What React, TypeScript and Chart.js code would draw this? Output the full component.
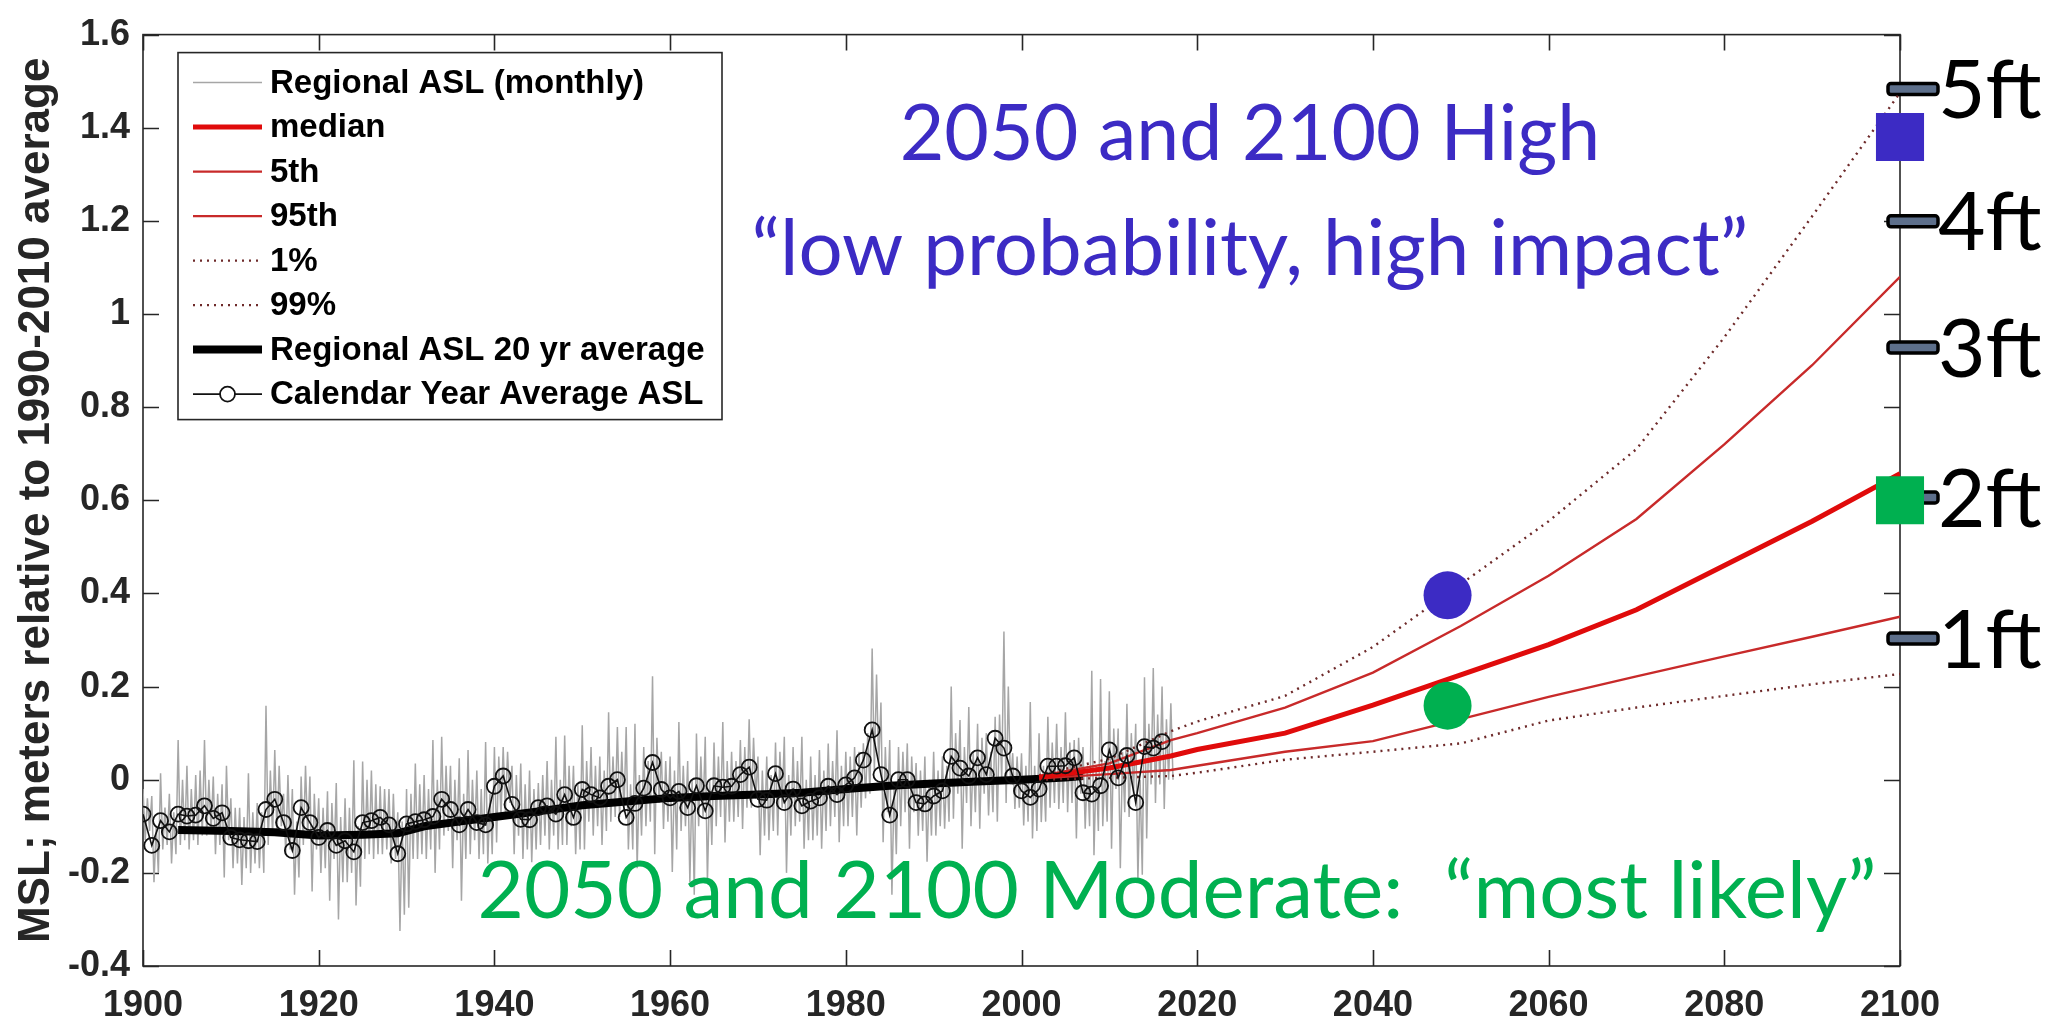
import React, { useEffect, useRef } from "react";
import { Chart, registerables } from "chart.js";

Chart.register(...registerables);

// ---------------- data ----------------
// monthly record, sampled 4 per year starting 1900
const monthlyStart = 1900;
const monthlyStep = 0.25;
const monthlyASL = [
  // 1900-1909
  -0.02, -0.13, -0.04, -0.11, -0.035, -0.22, -0.1, -0.2, 0.014, -0.15, -0.06, -0.14, -0.03, -0.18, -0.07, -0.16, 0.085, -0.14, 0.0, -0.13,
  0.03, -0.15, -0.02, -0.13, 0.01, -0.14, 0.02, -0.12, 0.085, -0.12, 0.0, -0.11, 0.007, -0.16, -0.03, -0.14, -0.01, -0.21, 0.03, -0.13,
  // 1910-1919
  -0.04, -0.19, -0.06, -0.18, -0.06, -0.226, -0.08, -0.19, 0.014, -0.2, -0.07, -0.18, -0.05, -0.19, -0.07, -0.2, 0.159, -0.14, 0.02, -0.12,
  0.064, -0.12, 0.03, -0.1, -0.03, -0.16, 0.01, -0.15, -0.02, -0.247, -0.09, -0.21, 0.007, -0.14, 0.03, -0.12, 0.007, -0.24, -0.03, -0.15,
  // 1920-1929
  -0.04, -0.2, -0.06, -0.19, -0.025, -0.26, -0.05, -0.17, -0.007, -0.3, -0.08, -0.22, -0.04, -0.22, -0.06, -0.2, 0.042, -0.27, -0.1, -0.23,
  0.039, -0.17, 0.0, -0.16, 0.02, -0.17, -0.01, -0.16, -0.014, -0.16, -0.02, -0.15, -0.02, -0.18, -0.03, -0.17, -0.07, -0.325, -0.09, -0.29,
  // 1930-1939
  -0.02, -0.275, -0.03, -0.17, 0.035, -0.17, -0.01, -0.16, 0.01, -0.17, -0.02, -0.15, 0.085, -0.2, 0.0, -0.15, 0.092, -0.12, 0.03, -0.11,
  0.03, -0.19, 0.0, -0.13, 0.046, -0.26, -0.03, -0.17, 0.064, -0.16, 0.0, -0.13, 0.02, -0.17, -0.02, -0.16, 0.081, -0.18, -0.03, -0.16,
  // 1940-1949
  0.07, -0.135, 0.05, -0.08, 0.07, -0.07, 0.06, -0.05, 0.03, -0.16, 0.01, -0.12, 0.035, -0.17, -0.01, -0.15, 0.02, -0.177, -0.02, -0.15,
  -0.007, -0.14, 0.01, -0.12, 0.04, -0.15, 0.0, -0.12, 0.092, -0.15, 0.0, -0.14, 0.095, -0.14, 0.03, -0.1, 0.03, -0.16, -0.01, -0.15,
  // 1950-1959
  0.117, -0.15, 0.04, -0.09, 0.07, -0.12, 0.03, -0.1, 0.05, -0.14, 0.02, -0.11, 0.145, -0.09, 0.05, -0.08, 0.113, -0.08, 0.06, -0.07,
  0.113, -0.15, -0.01, -0.15, 0.12, -0.19, 0.01, -0.12, 0.07, -0.1, 0.04, -0.09, 0.222, -0.16, 0.09, -0.05, 0.06, -0.106, 0.04, -0.09,
  // 1960-1969
  0.05, -0.198, 0.02, -0.15, 0.124, -0.11, 0.03, -0.1, 0.04, -0.22, 0.0, -0.247, 0.099, -0.1, 0.05, -0.08, 0.092, -0.22, 0.0, -0.14,
  0.08, -0.1, 0.05, -0.08, 0.124, -0.135, 0.04, -0.09, 0.06, -0.09, 0.04, -0.08, 0.085, -0.106, 0.07, -0.06, 0.13, -0.06, 0.09, -0.04,
  // 1970-1979
  0.05, -0.162, 0.02, -0.12, 0.05, -0.13, 0.01, -0.11, 0.08, -0.12, 0.06, -0.06, 0.092, -0.2, 0.01, -0.12, 0.07, -0.1, 0.04, -0.09,
  0.092, -0.148, 0.0, -0.13, 0.05, -0.13, 0.01, -0.12, 0.064, -0.148, 0.02, -0.11, 0.078, -0.1, 0.04, -0.08, 0.106, -0.134, 0.03, -0.1,
  // 1980-1989
  0.06, -0.1, 0.05, -0.08, 0.07, -0.12, 0.06, -0.06, 0.078, -0.04, 0.1, -0.03, 0.282, 0.02, 0.226, 0.03, 0.166, -0.134, 0.07, -0.07,
  0.085, -0.247, -0.01, -0.16, 0.07, -0.1, 0.06, -0.07, 0.078, -0.148, 0.05, -0.07, 0.036, -0.12, 0.02, -0.11, 0.05, -0.176, 0.0, -0.12,
  // 1990-1999
  0.06, -0.12, 0.02, -0.1, 0.05, -0.105, 0.03, -0.09, 0.2, -0.084, 0.1, -0.03, 0.128, -0.148, 0.07, -0.05, 0.156, -0.1, 0.06, -0.07,
  0.12, -0.105, 0.09, -0.03, 0.1, -0.077, 0.06, -0.07, 0.135, -0.09, 0.14, 0.0, 0.318, -0.05, 0.2, -0.01, 0.057, -0.063, 0.05, -0.06,
  // 2000-2009
  0.057, -0.098, 0.03, -0.09, 0.167, -0.126, 0.03, -0.11, 0.1, -0.091, 0.03, -0.09, 0.135, -0.06, 0.08, -0.05, 0.12, -0.063, 0.07, -0.05,
  0.145, -0.07, 0.08, -0.05, 0.085, -0.126, 0.09, -0.03, 0.07, -0.105, 0.03, -0.1, 0.234, -0.162, 0.03, -0.11, 0.216, -0.1, 0.04, -0.09,
  // 2010-2017
  0.19, -0.148, 0.11, -0.02, 0.11, -0.19, 0.06, -0.07, 0.163, -0.08, 0.1, -0.03, 0.12, -0.218, 0.0, -0.204, 0.22, -0.126, 0.12, -0.01,
  0.24, -0.05, 0.14, -0.01, 0.2, -0.063, 0.13, 0.0, 0.164, 0.0,
];

// calendar-year averages, 1900-2016
const annualStart = 1900;
const annualASL = [
  -0.074, -0.141, -0.088, -0.112, -0.074, -0.078, -0.076, -0.056, -0.083, -0.071,
  -0.124, -0.129, -0.131, -0.133, -0.064, -0.042, -0.092, -0.152, -0.06, -0.092,
  -0.124, -0.109, -0.141, -0.131, -0.155, -0.092, -0.088, -0.081, -0.097, -0.159,
  -0.095, -0.09, -0.086, -0.079, -0.042, -0.064, -0.097, -0.064, -0.092, -0.097,
  -0.014, 0.008, -0.053, -0.085, -0.086, -0.06, -0.056, -0.074, -0.032, -0.081,
  -0.021, -0.032, -0.039, -0.014, 0.0, -0.081, -0.051, -0.018, 0.037, -0.021,
  -0.039, -0.025, -0.06, -0.013, -0.067, -0.013, -0.016, -0.014, 0.011, 0.027,
  -0.042, -0.044, 0.013, -0.049, -0.02, -0.056, -0.046, -0.039, -0.014, -0.032,
  -0.011, 0.004, 0.042, 0.107, 0.011, -0.076, 0.0, 0.0, -0.049, -0.052,
  -0.035, -0.024, 0.05, 0.025, 0.008, 0.047, 0.011, 0.089, 0.068, 0.008,
  -0.024, -0.038, -0.02, 0.029, 0.029, 0.03, 0.047, -0.028, -0.031, -0.013,
  0.064, 0.004, 0.052, -0.049, 0.071, 0.068, 0.082,
];

// 20-year running average
const avg20Years = [1904, 1910, 1915, 1920, 1925, 1929, 1932, 1936, 1940, 1945, 1950, 1955, 1960, 1965, 1970, 1975, 1980, 1985, 1990, 1995, 2000, 2005, 2007];
const avg20ASL = [-0.108, -0.11, -0.113, -0.12, -0.118, -0.115, -0.1, -0.09, -0.08, -0.068, -0.055, -0.047, -0.039, -0.035, -0.032, -0.028, -0.02, -0.013, -0.008, -0.004, 0.0, 0.005, 0.008];

// projections
const projYears = [2002, 2010, 2017, 2020, 2030, 2040, 2050, 2060, 2070, 2080, 2090, 2100];
const projMedian = [0.005, 0.025, 0.051, 0.065, 0.1, 0.16, 0.225, 0.29, 0.365, 0.46, 0.555, 0.657];
const projP5 = [0.003, 0.012, 0.021, 0.03, 0.06, 0.083, 0.13, 0.178, 0.222, 0.265, 0.307, 0.35];
const projP95 = [0.008, 0.035, 0.085, 0.1, 0.155, 0.23, 0.33, 0.438, 0.56, 0.72, 0.89, 1.08];
const projP1 = [0.0, 0.004, 0.008, 0.015, 0.043, 0.06, 0.078, 0.127, 0.155, 0.18, 0.205, 0.227];
const projP99 = [0.01, 0.045, 0.104, 0.125, 0.18, 0.285, 0.42, 0.555, 0.71, 0.95, 1.21, 1.475];

// scenario markers (2050 and 2100)
const markerYears = [2048.5, 2100];
const highScenario = [0.396, 1.38];
const moderateScenario = [0.159, 0.6];

// feet reference marks (metres)
const ftLabels = ["1ft", "2ft", "3ft", "4ft", "5ft"];
const ftValues = [0.303, 0.606, 0.928, 1.199, 1.483];

// ---------------- styles ----------------
const AX = "#262626";
const SANS = '"Liberation Sans", Arial, Helvetica, sans-serif';
const CAL = 'Lato, Carlito, Calibri, sans-serif';
const BLUE = "#3c2bc4";
const GREEN = "#00b050";

const framePlugin = {
  id: "matlabFrame",
  beforeDatasetsDraw(chart: any) {
    const { ctx, chartArea: a, scales } = chart;
    const x = scales.x;
    const y = scales.y;
    ctx.save();
    ctx.strokeStyle = AX;
    ctx.lineWidth = 1.6;
    ctx.strokeRect(a.left, a.top, a.right - a.left, a.bottom - a.top);
    const tl = 16;
    ctx.beginPath();
    x.ticks.forEach((t: any) => {
      const px = Math.round(x.getPixelForValue(t.value)) + 0.5;
      ctx.moveTo(px, a.bottom);
      ctx.lineTo(px, a.bottom - tl);
      ctx.moveTo(px, a.top);
      ctx.lineTo(px, a.top + tl);
    });
    y.ticks.forEach((t: any) => {
      const py = Math.round(y.getPixelForValue(t.value)) + 0.5;
      ctx.moveTo(a.left, py);
      ctx.lineTo(a.left + tl, py);
      ctx.moveTo(a.right, py);
      ctx.lineTo(a.right - tl, py);
    });
    ctx.stroke();

    // feet reference bars + labels
    ftValues.forEach((v, i) => {
      const py = y.getPixelForValue(v);
      const x0 = a.right - 12;
      const w = 50;
      const h = 11;
      ctx.beginPath();
      ctx.roundRect(x0, py - h / 2, w, h, 3);
      ctx.fillStyle = "#5d6f8b";
      ctx.fill();
      ctx.lineWidth = 3.5;
      ctx.strokeStyle = "#000";
      ctx.stroke();
      ctx.fillStyle = "#000";
      ctx.font = `82px ${CAL}`;
      ctx.textAlign = "left";
      ctx.textBaseline = "alphabetic";
      ctx.fillText(ftLabels[i], a.right + 38, py + 29);
    });
    ctx.restore();
  },
  afterDatasetsDraw(chart: any) {
    const { ctx, scales } = chart;
    const opts = chart.options.plugins.slideText;
    ctx.save();
    opts.items.forEach((it: any) => {
      ctx.font = `${it.size}px ${CAL}`;
      ctx.fillStyle = it.color;
      ctx.textAlign = "center";
      ctx.textBaseline = "alphabetic";
      ctx.fillText(it.text, scales.x.getPixelForValue(it.x), scales.y.getPixelForValue(it.y));
    });
    ctx.restore();
  },
  afterDraw(chart: any) {
    const { ctx, chartArea: a } = chart;
    const L = a.left + 35;
    const T = a.top + 18;
    const W = 544;
    const H = 367;
    ctx.save();
    ctx.fillStyle = "#fff";
    ctx.fillRect(L, T, W, H);
    ctx.strokeStyle = AX;
    ctx.lineWidth = 1.6;
    ctx.strokeRect(L, T, W, H);
    ctx.font = `bold 33px ${SANS}`;
    ctx.textBaseline = "middle";
    ctx.textAlign = "left";
    const items = chart.data.datasets.filter((d: any) => d.label);
    items.forEach((d: any, i: number) => {
      const yy = T + 30 + i * 44.5;
      const x0 = L + 15;
      const x1 = L + 84;
      ctx.beginPath();
      ctx.setLineDash(d.borderDash || []);
      ctx.strokeStyle = d.borderColor;
      ctx.lineWidth = d.borderWidth;
      ctx.moveTo(x0, yy);
      ctx.lineTo(x1, yy);
      ctx.stroke();
      ctx.setLineDash([]);
      if (d.pointRadius > 0) {
        ctx.beginPath();
        ctx.arc((x0 + x1) / 2, yy, d.pointRadius, 0, Math.PI * 2);
        ctx.fillStyle = "#fff";
        ctx.fill();
        ctx.lineWidth = d.pointBorderWidth;
        ctx.stroke();
      }
      ctx.fillStyle = "#000";
      ctx.fillText(d.label, L + 92, yy + 1);
    });
    ctx.restore();
  },
};

export default function App() {
  const ref = useRef<HTMLCanvasElement>(null);

  useEffect(() => {
    const canvas = ref.current;
    if (!canvas) return;
    const pts = (xs: number[], ys: number[]) => ys.map((v, i) => ({ x: xs[i], y: v }));
    const monthlyPts = monthlyASL.map((v, i) => ({ x: monthlyStart + i * monthlyStep, y: v }));
    const annualPts = annualASL.map((v, i) => ({ x: annualStart + i, y: v }));

    const chart = new Chart(canvas, {
      type: "line",
      data: {
        datasets: [
          {
            label: "Regional ASL (monthly)",
            data: monthlyPts,
            borderColor: "#a6a6a6",
            borderWidth: 1.5,
            pointRadius: 0,
            order: 6,
          },
          {
            label: "median",
            data: pts(projYears, projMedian),
            borderColor: "#e00b0b",
            borderWidth: 5,
            pointRadius: 0,
            order: 3,
          },
          {
            label: "5th",
            data: pts(projYears, projP5),
            borderColor: "#c82a2a",
            borderWidth: 2.4,
            pointRadius: 0,
            order: 4,
          },
          {
            label: "95th",
            data: pts(projYears, projP95),
            borderColor: "#c82a2a",
            borderWidth: 2.4,
            pointRadius: 0,
            order: 4,
          },
          {
            label: "1%",
            data: pts(projYears, projP1),
            borderColor: "#6e2a2a",
            borderWidth: 2.4,
            borderDash: [2, 5],
            pointRadius: 0,
            order: 4,
          },
          {
            label: "99%",
            data: pts(projYears, projP99),
            borderColor: "#6e2a2a",
            borderWidth: 2.4,
            borderDash: [2, 5],
            pointRadius: 0,
            order: 4,
          },
          {
            label: "Regional ASL 20 yr average",
            data: pts(avg20Years, avg20ASL),
            borderColor: "#000",
            borderWidth: 8,
            pointRadius: 0,
            order: 5,
          },
          {
            label: "Calendar Year Average ASL",
            data: annualPts,
            borderColor: "#111",
            borderWidth: 1.6,
            pointRadius: 7.5,
            pointBorderWidth: 1.8,
            pointBackgroundColor: "rgba(0,0,0,0)",
            pointBorderColor: "#111",
            order: 2,
          },
          {
            label: "",
            data: pts(markerYears, highScenario),
            showLine: false,
            pointStyle: ["circle", "rect"],
            pointRadius: [24, 34],
            pointBackgroundColor: BLUE,
            pointBorderColor: BLUE,
            borderColor: BLUE,
            pointBorderWidth: 0,
            clip: false,
            order: 0,
          },
          {
            label: "",
            data: pts(markerYears, moderateScenario),
            showLine: false,
            pointStyle: ["circle", "rect"],
            pointRadius: [24, 34],
            pointBackgroundColor: GREEN,
            pointBorderColor: GREEN,
            borderColor: GREEN,
            pointBorderWidth: 0,
            clip: false,
            order: 0,
          },
        ] as any,
      },
      options: {
        responsive: false,
        animation: false,
        devicePixelRatio: 1,
        layout: { padding: { top: 22, right: 153, bottom: 0, left: 0 } },
        elements: { line: { tension: 0 } },
        scales: {
          x: {
            type: "linear",
            min: 1900,
            max: 2100,
            grid: { display: false, drawTicks: false },
            border: { display: false },
            afterFit: (s: any) => {
              s.height = 58;
            },
            ticks: {
              stepSize: 20,
              autoSkip: false,
              maxRotation: 0,
              padding: 18,
              color: AX,
              font: { family: SANS, size: 36, weight: "bold" },
              callback: (v: any) => String(Math.round(Number(v))),
            },
          },
          y: {
            type: "linear",
            min: -0.4,
            max: 1.6,
            grid: { display: false, drawTicks: false },
            border: { display: false },
            afterFit: (s: any) => {
              s.width = 143;
            },
            ticks: {
              stepSize: 0.2,
              autoSkip: false,
              padding: 13,
              color: AX,
              font: { family: SANS, size: 36, weight: "bold" },
              callback: (v: any) => {
                const n = Number(v);
                if (Math.abs(n) < 1e-9) return "0";
                return n.toFixed(1).replace(/\.0$/, "");
              },
            },
            title: {
              display: true,
              text: "MSL; meters relative to 1990-2010 average",
              color: AX,
              font: { family: SANS, size: 44, weight: "bold" },
              padding: { top: 10, bottom: 0 },
            },
          },
        },
        plugins: {
          legend: { display: false },
          tooltip: { enabled: false },
          slideText: {
            items: [
              { text: "2050 and 2100 High", x: 2026, y: 1.33, color: BLUE, size: 77 },
              { text: "\u201Clow probability, high impact\u201D", x: 2026, y: 1.083, color: BLUE, size: 78 },
              { text: "2050 and 2100 Moderate:  \u201Cmost likely\u201D", x: 2017.7, y: -0.297, color: GREEN, size: 80 },
            ],
          },
        } as any,
      },
      plugins: [framePlugin],
    });
    return () => chart.destroy();
  }, []);

  return (
    <div style={{ position: "fixed", left: 0, top: 0, width: 2053, height: 1024, background: "#fff" }}>
      <canvas ref={ref} width={2053} height={1024} style={{ width: 2053, height: 1024, display: "block" }} />
    </div>
  );
}
